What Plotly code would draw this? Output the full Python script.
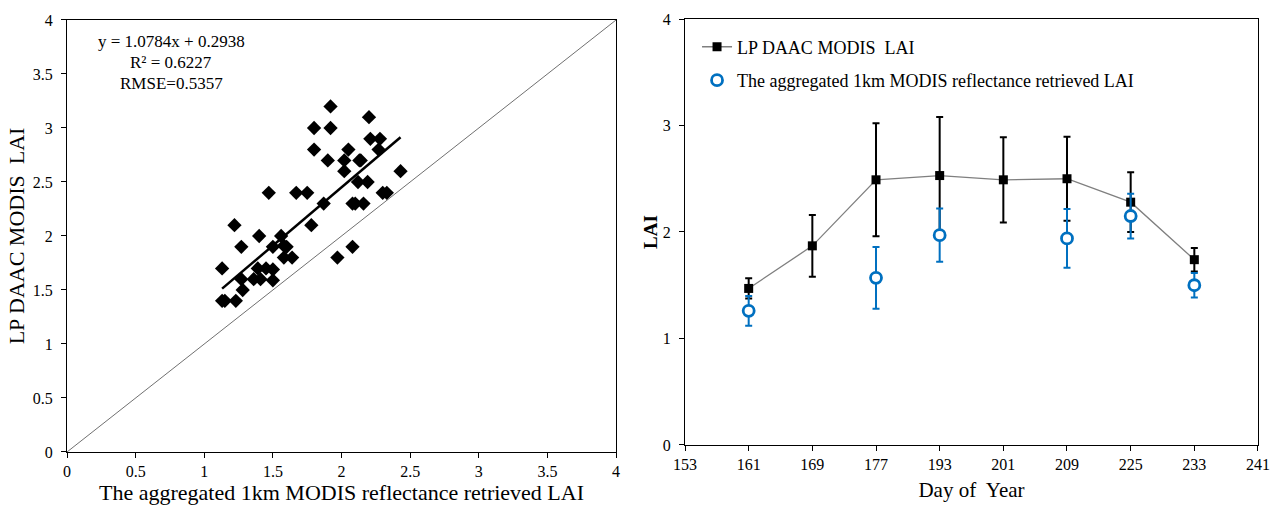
import plotly.graph_objects as go

# ---------------- Data ----------------
# Left: scatter of aggregated 1km retrieved LAI (x) vs LP DAAC MODIS LAI (y)
scatter_x = [1.13, 1.15, 1.23, 1.13, 1.22, 1.27, 1.28, 1.27, 1.36, 1.41, 1.39, 1.40,
             1.45, 1.47, 1.50, 1.50, 1.50, 1.56, 1.58, 1.60, 1.58, 1.64, 1.67, 1.75,
             1.78, 1.80, 1.80, 1.87, 1.90, 1.92, 1.92, 1.97, 2.02, 2.02, 2.05, 2.08,
             2.08, 2.10, 2.12, 2.13, 2.14, 2.16, 2.19, 2.20, 2.21, 2.27, 2.28, 2.30,
             2.33, 2.43]
scatter_y = [1.40, 1.40, 1.40, 1.70, 2.10, 1.90, 1.50, 1.60, 1.60, 1.60, 1.70, 2.00,
             1.70, 2.40, 1.90, 1.69, 1.59, 2.00, 1.91, 1.90, 1.80, 1.80, 2.40, 2.40,
             2.10, 3.00, 2.80, 2.30, 2.70, 3.20, 3.00, 1.80, 2.70, 2.60, 2.80, 2.30,
             1.90, 2.30, 2.50, 2.70, 2.70, 2.30, 2.50, 3.10, 2.90, 2.80, 2.90, 2.40,
             2.40, 2.60]
fit_slope = 1.0784
fit_intercept = 0.2938
fit_text = ["y = 1.0784x + 0.2938", "R² = 0.6227", "RMSE=0.5357"]
one_to_one = [0, 4]

# Right: time series
doy_ticks = ["153", "161", "169", "177", "193", "201", "209", "225", "233", "241"]
lp_days = ["161", "169", "177", "193", "201", "209", "225", "233"]
lp_lai = [1.47, 1.87, 2.49, 2.53, 2.49, 2.50, 2.28, 1.74]
lp_err = [0.095, 0.29, 0.53, 0.55, 0.40, 0.395, 0.28, 0.11]
agg_days = ["161", "177", "193", "209", "225", "233"]
agg_lai = [1.26, 1.57, 1.97, 1.94, 2.15, 1.50]
agg_err = [0.14, 0.29, 0.25, 0.275, 0.21, 0.115]

# ---------------- Figure ----------------
FONT = "Liberation Serif"
BLUE = "#0070C0"

fig = go.Figure()

# 1:1 line
fig.add_trace(go.Scatter(x=one_to_one, y=one_to_one, mode="lines",
                         line=dict(color="#707070", width=1),
                         xaxis="x", yaxis="y", showlegend=False, hoverinfo="skip"))
# regression line
fx = [min(scatter_x), max(scatter_x)]
fy = [fit_slope * v + fit_intercept for v in fx]
fig.add_trace(go.Scatter(x=fx, y=fy, mode="lines",
                         line=dict(color="black", width=2.5),
                         xaxis="x", yaxis="y", showlegend=False))
# scatter points
fig.add_trace(go.Scatter(x=scatter_x, y=scatter_y, mode="markers",
                         marker=dict(symbol="diamond", size=11, color="black"),
                         xaxis="x", yaxis="y", showlegend=False))

# right chart
fig.add_trace(go.Scatter(x=lp_days, y=lp_lai, mode="lines+markers",
                         name="LP DAAC MODIS  LAI", legendgroup="a",
                         line=dict(color="#7f7f7f", width=1.3),
                         marker=dict(symbol="square", size=9, color="black"),
                         error_y=dict(type="data", array=lp_err, visible=True,
                                      color="black", thickness=2, width=3.5),
                         xaxis="x2", yaxis="y2"))
fig.add_trace(go.Scatter(x=agg_days, y=agg_lai, mode="markers",
                         name="The aggregated 1km MODIS reflectance retrieved LAI",
                         legendgroup="b",
                         marker=dict(symbol="circle", size=11, color="white",
                                     line=dict(color=BLUE, width=2.8)),
                         error_y=dict(type="data", array=agg_err, visible=True,
                                      color=BLUE, thickness=2, width=3.5),
                         xaxis="x2", yaxis="y2"))

axis_common = dict(showline=True, linecolor="black", linewidth=1, mirror=True,
                   showgrid=False, zeroline=False, ticks="outside", ticklen=5,
                   tickcolor="black", automargin=False,
                   tickfont=dict(family=FONT, size=16, color="black"))

annotations = []
for i, (txt, yv) in enumerate(zip(fit_text, [3.80, 3.61, 3.41])):
    annotations.append(dict(x=0.76, y=yv, xref="x", yref="y", text=txt,
                            showarrow=False, xanchor="center", yanchor="middle",
                            font=dict(family=FONT, size=17, color="black")))

fig.update_layout(
    width=1272, height=506,
    margin=dict(l=67, r=14, t=19, b=54, autoexpand=False),
    paper_bgcolor="white", plot_bgcolor="white",
    font=dict(family=FONT, color="black"),
    xaxis=dict(domain=[0, 0.461], range=[0, 4], dtick=0.5,
               title=dict(text="The aggregated 1km MODIS reflectance retrieved LAI",
                          font=dict(family=FONT, size=22), standoff=0),
               **axis_common),
    yaxis=dict(domain=[0, 0.9977], range=[0, 4], dtick=0.5, anchor="x",
               title=dict(text="LP DAAC MODIS  LAI", font=dict(family=FONT, size=22),
                          standoff=2),
               ticklabelstandoff=5,
               **axis_common),
    xaxis2=dict(domain=[0.5189, 1], type="category", categoryarray=doy_ticks,
                categoryorder="array", range=[0, 9], anchor="y2",
                title=dict(text="Day of  Year", font=dict(family=FONT, size=21),
                           standoff=10),
                **axis_common),
    yaxis2=dict(domain=[0.0162, 1], range=[0, 4], dtick=1, anchor="x2",
                title=dict(text="<b>LAI</b>", font=dict(family=FONT, size=19),
                           standoff=0),
                ticklabelstandoff=5,
                **axis_common),
    legend=dict(x=0.529, y=0.978, xanchor="left", yanchor="top",
                bgcolor="rgba(0,0,0,0)", font=dict(family=FONT, size=18, color="black"),
                tracegroupgap=7, itemwidth=30),
    annotations=annotations,
    showlegend=True,
)

fig.write_html("out.html")
